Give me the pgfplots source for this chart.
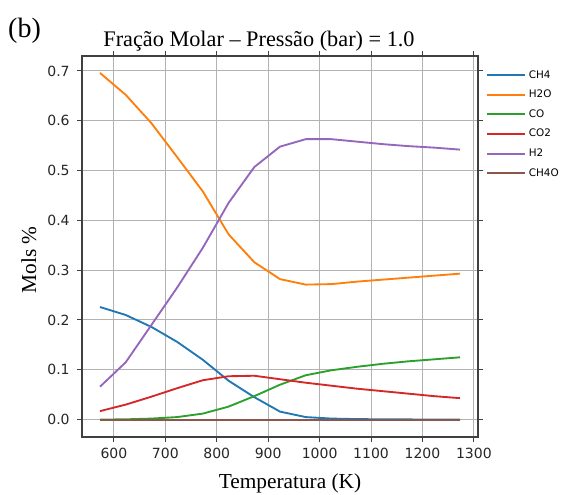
\documentclass[border=0pt]{standalone}
\usepackage{fontspec}
\setmainfont{Liberation Serif}
\newfontfamily\dejavu{DejaVu Sans}
\usepackage{pgfplots}
\pgfplotsset{compat=1.18}
\definecolor{c0}{HTML}{1F77B4}
\definecolor{c1}{HTML}{FF7F0E}
\definecolor{c2}{HTML}{2CA02C}
\definecolor{c3}{HTML}{D62728}
\definecolor{c4}{HTML}{9467BD}
\definecolor{c5}{HTML}{8C564B}
\begin{document}
\begin{tikzpicture}
\useasboundingbox (0,0) rectangle (422.25pt,370.5pt);
\begin{axis}[
  at={(61.5pt,42.75pt)}, anchor=south west,
  width=297pt, height=285.75pt, scale only axis,
  xmin=538, xmax=1308, ymin=-0.035, ymax=0.73,
  xtick={600,700,...,1300}, ytick={0,0.1,0.2,0.3,0.4,0.5,0.6,0.7},
  grid=major, grid style={color=black!30, line width=0.7pt},
  axis line style={line width=0.9pt, color=black!75},
  tick align=outside, major tick length=3.75pt,
  tick style={color=black!75, line width=0.7pt},
  /pgf/number format/assume math mode=true,
  tick label style={font=\dejavu\fontsize{10.5}{12}\selectfont, color=black!85},
  yticklabel style={/pgf/number format/fixed, /pgf/number format/fixed zerofill, /pgf/number format/precision=1, xshift=-2pt},
  xticklabel style={/pgf/number format/1000 sep={}, yshift=-1pt},
  legend style={at={(1.02,0.97)}, anchor=north west, draw=none, fill=none,
    font=\dejavu\fontsize{7.8}{9}\selectfont, row sep=3.4pt, inner sep=0pt,
    nodes={inner xsep=2.5pt}},
  legend cell align=left,
  legend image code/.code={\draw[#1, line width=1.5pt] (0pt,0pt) -- (28pt,0pt);},
]
\addplot[c0, line width=1.4pt] coordinates {(573,0.226) (623,0.210) (673,0.186) (723,0.156) (773,0.120) (823,0.078) (873,0.045) (923,0.016) (973,0.005) (1023,0.002) (1073,0.001) (1123,0.0005) (1173,0.0003) (1223,0.0002) (1273,0.0001)};
\addlegendentry{CH4}
\addplot[c1, line width=1.4pt] coordinates {(573,0.696) (623,0.652) (673,0.595) (723,0.527) (773,0.458) (823,0.372) (873,0.316) (923,0.282) (973,0.271) (1023,0.272) (1073,0.277) (1123,0.281) (1173,0.285) (1223,0.289) (1273,0.293)};
\addlegendentry{H2O}
\addplot[c2, line width=1.4pt] coordinates {(573,0.0) (623,0.0005) (673,0.002) (723,0.005) (773,0.012) (823,0.026) (873,0.047) (923,0.070) (973,0.089) (1023,0.099) (1073,0.106) (1123,0.112) (1173,0.117) (1223,0.121) (1273,0.125)};
\addlegendentry{CO}
\addplot[c3, line width=1.4pt] coordinates {(573,0.017) (623,0.030) (673,0.046) (723,0.063) (773,0.079) (823,0.087) (873,0.088) (923,0.081) (973,0.074) (1023,0.068) (1073,0.062) (1123,0.057) (1173,0.052) (1223,0.047) (1273,0.043)};
\addlegendentry{CO2}
\addplot[c4, line width=1.4pt] coordinates {(573,0.066) (623,0.115) (673,0.190) (723,0.265) (773,0.345) (823,0.435) (873,0.507) (923,0.548) (973,0.563) (1023,0.563) (1073,0.558) (1123,0.553) (1173,0.549) (1223,0.546) (1273,0.542)};
\addlegendentry{H2}
\addplot[c5, line width=1.4pt] coordinates {(573,0) (623,0) (673,0) (723,0) (773,0) (823,0) (873,0) (923,0) (973,0) (1023,0) (1073,0) (1123,0) (1173,0) (1223,0) (1273,0)};
\addlegendentry{CH4O}
\end{axis}
\node[anchor=base, font=\fontsize{21}{24}\selectfont] at (18.4pt,342pt) {(b)};
\node[anchor=base, font=\fontsize{16.7}{19}\selectfont] at (194.25pt,335.25pt) {Fração Molar – Pressão (bar) = 1.0};
\node[anchor=base, font=\fontsize{16}{19}\selectfont] at (217.5pt,4.5pt) {Temperatura (K)};
\node[anchor=base, rotate=90, font=\fontsize{16}{19}\selectfont] at (27pt,175.5pt) {Mols \%};
\end{tikzpicture}
\end{document}
